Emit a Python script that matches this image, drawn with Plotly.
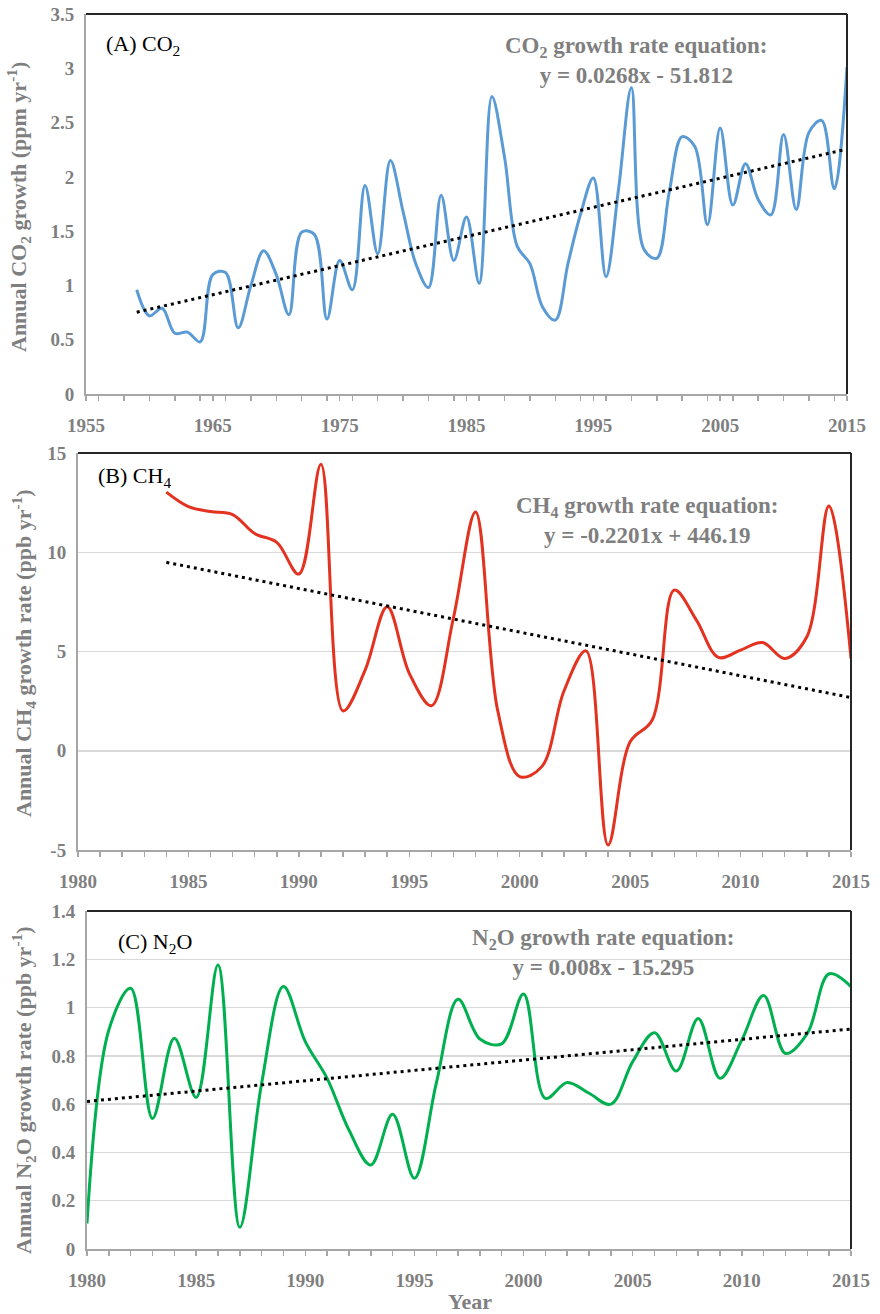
import numpy as np
import plotly.graph_objects as go

# ---------------- data ----------------
co2_years = list(range(1959, 2016))
co2_growth = [0.96, 0.72, 0.79, 0.56, 0.57, 0.48, 1.10, 1.12, 0.61, 1.00,
              1.32, 1.10, 0.73, 1.49, 1.47, 0.69, 1.23, 0.96, 1.92, 1.29,
              2.15, 1.68, 1.20, 0.98, 1.83, 1.23, 1.63, 1.02, 2.74, 2.18,
              1.36, 1.20, 0.80, 0.68, 1.20, 1.66, 1.99, 1.08, 1.90, 2.82,
              1.33, 1.25, 1.87, 2.37, 2.28, 1.56, 2.45, 1.74, 2.12, 1.79,
              1.65, 2.39, 1.70, 2.41, 2.52, 1.89, 3.01]

ch4_years = list(range(1984, 2016))
ch4_growth = [13.03, 12.30, 12.05, 11.90, 10.94, 10.50, 8.90, 14.43, 2.00, 4.06,
              7.25, 3.90, 2.27, 6.70, 12.03, 2.05, -1.30, -0.80, 3.00, 5.03,
              -4.75, 0.45, 1.55, 8.09, 6.58, 4.70, 5.07, 5.45, 4.65, 5.74,
              12.33, 4.65]

n2o_years = list(range(1980, 2016))
n2o_growth = [0.106, 0.907, 1.080, 0.541, 0.873, 0.628, 1.176, 0.090, 0.686, 1.087,
              0.859, 0.707, 0.493, 0.348, 0.558, 0.293, 0.686, 1.034, 0.870, 0.850,
              1.056, 0.624, 0.690, 0.645, 0.600, 0.776, 0.896, 0.737, 0.955, 0.707,
              0.866, 1.050, 0.810, 0.893, 1.140, 1.087]

co2_yticks = [0, 0.5, 1, 1.5, 2, 2.5, 3, 3.5]
co2_yticktext = ["0", "0.5", "1", "1.5", "2", "2.5", "3", "3.5"]
ch4_yticks = [-5, 0, 5, 10, 15]
ch4_yticktext = ["-5", "0", "5", "10", "15"]
n2o_yticks = [0, 0.2, 0.4, 0.6, 0.8, 1, 1.2, 1.4]
n2o_yticktext = ["0", "0.2", "0.4", "0.6", "0.8", "1", "1.2", "1.4"]

co2_xticks = [1955, 1965, 1975, 1985, 1995, 2005, 2015]
bc_xticks = [1980, 1985, 1990, 1995, 2000, 2005, 2010, 2015]

# ---------------- styling ----------------
W, H = 880, 1314
GRAY = "#7f7f7f"
AXGRAY = "#a6a6a6"
FONT = "Liberation Serif"


def px(x):
    return x / W


def py(y):
    return 1 - y / H


fig = go.Figure()

panels = [
    dict(years=co2_years, vals=co2_growth, color="#5b9bd5", xa="x", ya="y"),
    dict(years=ch4_years, vals=ch4_growth, color="#e3321f", xa="x2", ya="y2"),
    dict(years=n2o_years, vals=n2o_growth, color="#00b050", xa="x3", ya="y3"),
]

for p in panels:
    fig.add_trace(go.Scatter(x=p["years"], y=p["vals"], mode="lines",
                             line=dict(color=p["color"], width=3, shape="spline", smoothing=1),
                             xaxis=p["xa"], yaxis=p["ya"], showlegend=False,
                             hoverinfo="skip"))
    coef = np.polyfit(p["years"], p["vals"], 1)
    tx = [p["years"][0], p["years"][-1]]
    ty = list(np.polyval(coef, tx))
    fig.add_trace(go.Scatter(x=tx, y=ty, mode="lines",
                             line=dict(color="black", width=3, dash="3px,4px"),
                             xaxis=p["xa"], yaxis=p["ya"], showlegend=False,
                             hoverinfo="skip"))

tickfont = dict(family=FONT, size=19, color=GRAY, weight="bold")

# plot area pixel boxes: (left, top, right, bottom)
boxes = {
    "A": (86, 14, 847, 394),
    "B": (78, 453, 851, 850),
    "C": (87, 911, 851, 1249),
}


def xaxis_cfg(box, rng, tickvals, minor_dtick):
    l, t, r, b = box
    return dict(domain=[px(l), px(r)], range=rng, tickvals=tickvals,
                ticktext=[str(v) for v in tickvals],
                showline=True, linecolor=AXGRAY, linewidth=2,
                ticks="outside", ticklen=5, tickcolor=AXGRAY, tickwidth=1.5,
                minor=dict(dtick=minor_dtick, ticks="outside", ticklen=5,
                           tickcolor=AXGRAY, tickwidth=1.5, showgrid=False),
                showgrid=False, zeroline=False, tickfont=tickfont,
                ticklabelstandoff=8, automargin=False, fixedrange=True)


def yaxis_cfg(box, rng, tickvals, ticktext, grid):
    l, t, r, b = box
    return dict(domain=[py(b), py(t)], range=rng, tickvals=tickvals, ticktext=ticktext,
                showline=True, linecolor=AXGRAY, linewidth=2, ticks="",
                showgrid=grid, gridcolor="#d9d9d9", gridwidth=1.5,
                zeroline=False, tickfont=tickfont, ticklabelstandoff=6,
                automargin=False, fixedrange=True)


layout = dict(
    width=W, height=H,
    margin=dict(l=0, r=0, t=0, b=0),
    paper_bgcolor="white", plot_bgcolor="white",
    showlegend=False,
    xaxis=xaxis_cfg(boxes["A"], [1955, 2015], co2_xticks, 2),
    yaxis=yaxis_cfg(boxes["A"], [0, 3.5], co2_yticks, co2_yticktext, False),
    xaxis2=xaxis_cfg(boxes["B"], [1980, 2015], bc_xticks, 1),
    yaxis2=yaxis_cfg(boxes["B"], [-5, 15], ch4_yticks, ch4_yticktext, True),
    xaxis3=xaxis_cfg(boxes["C"], [1980, 2015], bc_xticks, 1),
    yaxis3=yaxis_cfg(boxes["C"], [0, 1.4], n2o_yticks, n2o_yticktext, True),
)
layout["xaxis2"]["anchor"] = "y2"
layout["yaxis2"]["anchor"] = "x2"
layout["xaxis3"]["anchor"] = "y3"
layout["yaxis3"]["anchor"] = "x3"
fig.update_layout(**layout)

# frame: top and right borders in black
shapes = []
for xr, yr in [("x", "y"), ("x2", "y2"), ("x3", "y3")]:
    shapes.append(dict(type="line", xref=f"{xr} domain", yref=f"{yr} domain",
                       x0=0, x1=1, y0=1, y1=1, line=dict(color="#262626", width=2)))
    shapes.append(dict(type="line", xref=f"{xr} domain", yref=f"{yr} domain",
                       x0=1, x1=1, y0=0, y1=1, line=dict(color="#262626", width=2)))
fig.update_layout(shapes=shapes)

annos = []
title_font = dict(family=FONT, size=22, color=GRAY, weight="bold")
eq_font = dict(family=FONT, size=23, color=GRAY, weight="bold")
label_font = dict(family=FONT, size=22, color="black")

# y-axis titles
for text, xc, yc in [
    ("Annual CO<sub>2</sub> growth (ppm yr<sup>-1</sup>)", 19, 207),
    ("Annual CH<sub>4</sub> growth rate (ppb yr<sup>-1</sup>)", 23, 653),
    ("Annual N<sub>2</sub>O growth rate (ppb yr<sup>-1</sup>)", 23, 1090),
]:
    annos.append(dict(text=text, x=px(xc), y=py(yc), xref="paper", yref="paper",
                      textangle=-90, showarrow=False, font=title_font,
                      xanchor="center", yanchor="middle"))

# panel labels
for text, xl, yc in [
    ("(A) CO<sub>2</sub>", 104, 45),
    ("(B) CH<sub>4</sub>", 96, 477),
    ("(C) N<sub>2</sub>O", 116, 943),
]:
    annos.append(dict(text=text, x=px(xl), y=py(yc), xref="paper", yref="paper",
                      showarrow=False, font=label_font, xanchor="left", yanchor="middle"))

# equations
for text, xc, yc in [
    ("CO<sub>2</sub> growth rate equation:<br>y = 0.0268x - 51.812", 636, 60),
    ("CH<sub>4</sub> growth rate equation:<br>y = -0.2201x + 446.19", 647, 520),
    ("N<sub>2</sub>O growth rate equation:<br>y = 0.008x - 15.295", 603, 952),
]:
    annos.append(dict(text=text, x=px(xc), y=py(yc), xref="paper", yref="paper",
                      showarrow=False, font=eq_font, xanchor="center", yanchor="middle",
                      align="center"))

# x-axis title
annos.append(dict(text="Year", x=px(470), y=py(1301), xref="paper", yref="paper",
                  showarrow=False, font=title_font, xanchor="center", yanchor="middle"))

fig.update_layout(annotations=annos)

fig.write_html("out.html",
               config={"displayModeBar": False, "staticPlot": True},
               post_script="document.body.style.margin='0px';document.body.style.overflow='hidden';")
